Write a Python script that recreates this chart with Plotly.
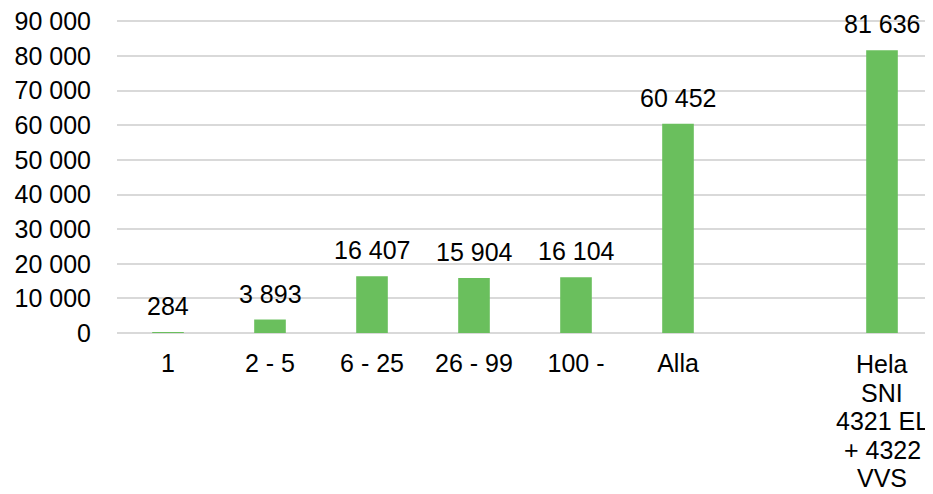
import plotly.graph_objects as go

categories = ["1", "2 - 5", "6 - 25", "26 - 99", "100 -", "Alla", " ", "Hela SNI 4321 EL + 4322 VVS"]
tick_labels = ["1", "2 - 5", "6 - 25", "26 - 99", "100 -", "Alla", "", ""]
last_label_lines = ["Hela", "SNI", "4321 EL", "+ 4322", "VVS"]
values = [284, 3893, 16407, 15904, 16104, 60452, None, 81636]
y_ticks = [0, 10000, 20000, 30000, 40000, 50000, 60000, 70000, 80000, 90000]

bar_color = "#6abf5d"
font = dict(family="Liberation Sans, Arial, sans-serif", size=25, color="#000000")

fig = go.Figure()
fig.add_trace(go.Bar(x=categories, y=values, marker=dict(color=bar_color, line=dict(width=0)),
                     width=0.31, hoverinfo="skip"))

for i, v in enumerate(values):
    if v is None:
        continue
    fig.add_annotation(x=i, y=v, text=f"{v:,}".replace(",", " "), showarrow=False,
                       yanchor="bottom", yshift=10, font=font)

for k, line in enumerate(last_label_lines):
    fig.add_annotation(x=len(categories) - 1, y=0, text=line, showarrow=False,
                       yanchor="middle", yshift=-(31 + 28.5 * k), font=font)

fig.update_layout(
    width=925, height=486,
    margin=dict(l=109, r=0, t=12, b=161, autoexpand=False),
    paper_bgcolor="white", plot_bgcolor="white",
    font=font, showlegend=False, separators=", ",
    xaxis=dict(showgrid=False, showline=False, ticks="outside", ticklen=8,
               tickcolor="rgba(0,0,0,0)", tickfont=font, automargin=False,
               tickmode="array", tickvals=categories, ticktext=tick_labels),
    yaxis=dict(range=[0, 90400], tickvals=y_ticks, tickformat=",d", showgrid=True,
               gridcolor="#d9d9d9", gridwidth=1.5, zeroline=True, zerolinecolor="#d9d9d9",
               zerolinewidth=1.5, showline=False, ticks="outside", ticklen=20,
               tickcolor="rgba(0,0,0,0)", tickfont=font, automargin=False,
               ticklabeloverflow="allow"),
)
fig.write_html("out.html")
